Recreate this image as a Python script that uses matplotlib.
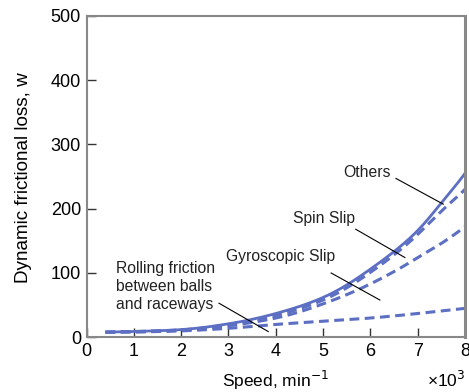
import matplotlib
matplotlib.use("Agg")
import matplotlib.pyplot as plt
import numpy as np

plt.rcParams['font.family'] = ['Liberation Sans', 'DejaVu Sans']

speed = [0.4, 1, 2, 3, 4, 5, 6, 7, 7.5, 8]
others = [8, 9, 12, 21, 37, 62, 106, 166, 209, 255]
spin_slip = [8, 9, 11.5, 20, 34, 58, 101, 160, 196, 230]
gyro_slip = [8, 8.5, 11, 18, 30, 52, 83, 124, 146, 172]
rolling = [8, 8.2, 10, 14, 20, 25, 30, 37, 41, 45]

color = '#5c6fc3'

W, H = 469, 392
fig = plt.figure(figsize=(W / 100, H / 100), dpi=100)
ax = fig.add_axes([0.1845, 0.1395, 0.807, 0.8205])

def smooth(x, y):
    # cubic Hermite spline through the points in log space
    x = np.asarray(x, float)
    ly = np.log(np.asarray(y, float))
    n = len(x)
    xs_all, ys_all = [], []
    for i in range(n - 1):
        x0, x1 = x[i], x[i + 1]
        y0, y1 = ly[i], ly[i + 1]
        if i > 0:
            m0 = (ly[i + 1] - ly[i - 1]) / (x[i + 1] - x[i - 1])
        else:
            m0 = (y1 - y0) / (x1 - x0)
        if i < n - 2:
            m1 = (ly[i + 2] - ly[i]) / (x[i + 2] - x[i])
        else:
            m1 = (y1 - y0) / (x1 - x0)
        t = np.linspace(0, 1, 30, endpoint=(i == n - 2))
        h = x1 - x0
        h00 = 2 * t**3 - 3 * t**2 + 1
        h10 = t**3 - 2 * t**2 + t
        h01 = -2 * t**3 + 3 * t**2
        h11 = t**3 - t**2
        xs_all.append(x0 + t * h)
        ys_all.append(h00 * y0 + h10 * h * m0 + h01 * y1 + h11 * h * m1)
    return np.concatenate(xs_all), np.exp(np.concatenate(ys_all))

ax.plot(*smooth(speed, others), color=color, lw=2.0, solid_capstyle='butt')
for s in (spin_slip, gyro_slip, rolling):
    ax.plot(*smooth(speed, s), color=color, lw=2.2, dashes=(3.2, 1.8))

ax.set_xlim(0, 8)
ax.set_ylim(0, 500)
ax.set_xticks(range(0, 9))
ax.set_yticks(range(0, 501, 100))
ax.tick_params(direction='in', length=6.5, width=1, color='#333333',
               labelsize=13, pad=4)
for sp in ax.spines.values():
    sp.set_color('#888888')
    sp.set_linewidth(1.5)
ax.spines['right'].set_linewidth(2.2)

ylab = fig.text(24 / W, 1 - 177.5 / H, 'Dynamic frictional loss, w', fontsize=13,
                rotation=90, ha='center', va='center')
xlab = fig.text(275 / W, 1 - 380 / H, 'Speed, min$^{-1}$', fontsize=13,
                ha='center', va='center')
fig.text(465 / W, 1 - 380 / H, '×10$^{3}$', fontsize=12.5, ha='right', va='center')

# scale axis titles to the reference extents
fig.canvas.draw()
r = fig.canvas.get_renderer()
bb = ylab.get_window_extent(r)
ylab.set_fontsize(13 * 211.6 / bb.height)
bb = xlab.get_window_extent(r)
xlab.set_fontsize(13 * 106.6 / bb.width)

tk = dict(fontsize=11.3, va='center', color='#222222')
ax.text(5.42, 255.5, 'Others', ha='left', **tk)
ax.plot([6.54, 7.54], [247, 207], color='black', lw=0.8)
ax.text(4.36, 184, 'Spin Slip', ha='left', **tk)
ax.plot([5.69, 6.73], [168, 124], color='black', lw=0.8)
ax.text(2.95, 125, 'Gyroscopic Slip', ha='left', **tk)
ax.plot([5.17, 6.20], [100, 58], color='black', lw=0.8)
ax.text(0.624, 78.8, 'Rolling friction\nbetween balls\nand raceways', ha='left',
        linespacing=1.25, **tk)
ax.plot([2.80, 3.84], [53, 9], color='black', lw=0.8)

fig.savefig('out.png', dpi=100)
